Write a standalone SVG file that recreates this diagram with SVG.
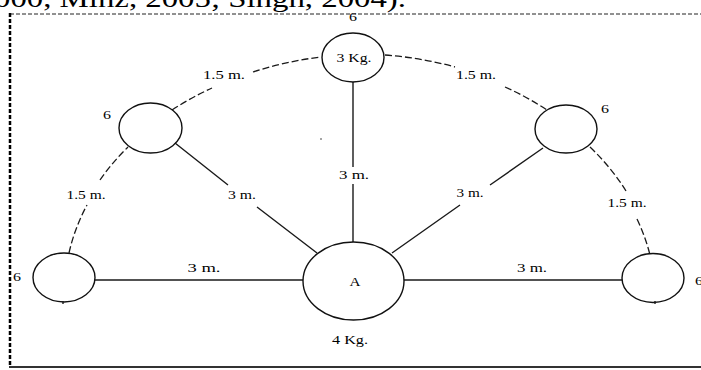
<svg xmlns="http://www.w3.org/2000/svg" width="701" height="370" viewBox="0 0 701 370">
<style>
.node{fill:none;stroke:#111;stroke-width:1.4}
.ln{fill:none;stroke:#1a1a1a;stroke-width:1.4}
.dash{fill:none;stroke:#1a1a1a;stroke-width:1.3;stroke-dasharray:7 3}
.t{font-family:"Liberation Serif","Times New Roman",serif;font-size:13px;fill:#000;text-anchor:middle}
.top{font-family:"Liberation Serif","Times New Roman",serif;font-size:25px;fill:#000}
</style>
<rect width="701" height="370" fill="#fff"/>
<text class="top" x="-6" y="7" textLength="412" lengthAdjust="spacingAndGlyphs">000, Minz, 2005; Singh, 2004).</text>
<g id="frame">
<line x1="10" y1="14" x2="701" y2="14" stroke="#222" stroke-width="1" stroke-dasharray="4 2"/>
<line x1="10" y1="13" x2="10" y2="367" stroke="#000" stroke-width="2.5" stroke-dasharray="4 2"/>
<line x1="9" y1="367" x2="701" y2="367" stroke="#333" stroke-width="2"/>
</g>
<g id="connectors">
<path class="ln" d="M353 82 V167 M353 184 V242"/>
<path class="ln" d="M175 143 L228 185 M257 207 L317 253"/>
<path class="ln" d="M543 148 L490 185 M460 205 L392 253"/>
<path class="ln" d="M95 280 H303 M404 280 H622"/>
<path class="dash" d="M253 72 A289 224 0 0 1 321 57"/>
<path class="dash" d="M172 110 A289 224 0 0 1 212 88"/>
<path class="dash" d="M100 180 A289 224 0 0 1 128 147"/>
<path class="dash" d="M69 253 A289 224 0 0 1 87 205"/>
<path class="dash" d="M385 55 A289 224 0 0 1 455 67"/>
<path class="dash" d="M505 87 A289 224 0 0 1 547 110"/>
<path class="dash" d="M590 147 A289 224 0 0 1 626 191"/>
<path class="dash" d="M637 219 A289 224 0 0 1 650 255"/>
<text class="t" x="224" y="79" textLength="42" lengthAdjust="spacingAndGlyphs">1.5 m.</text>
<text class="t" x="476" y="79" textLength="40" lengthAdjust="spacingAndGlyphs">1.5 m.</text>
<text class="t" x="86" y="199" textLength="39" lengthAdjust="spacingAndGlyphs">1.5 m.</text>
<text class="t" x="627" y="207" textLength="39" lengthAdjust="spacingAndGlyphs">1.5 m.</text>
<text class="t" x="242" y="199" textLength="28" lengthAdjust="spacingAndGlyphs">3 m.</text>
<text class="t" x="354" y="179" textLength="30" lengthAdjust="spacingAndGlyphs">3 m.</text>
<text class="t" x="470" y="197" textLength="27" lengthAdjust="spacingAndGlyphs">3 m.</text>
<text class="t" x="204" y="272" textLength="33" lengthAdjust="spacingAndGlyphs">3 m.</text>
<text class="t" x="532" y="272" textLength="30" lengthAdjust="spacingAndGlyphs">3 m.</text>
</g>
<g id="node-top">
<ellipse class="node" cx="353" cy="57.5" rx="31" ry="24.5"/>
<text class="t" x="354" y="62" textLength="35" lengthAdjust="spacingAndGlyphs">3 Kg.</text>
<text class="t" x="353" y="21" textLength="8" lengthAdjust="spacingAndGlyphs">6</text>
</g>
<g id="node-upper-left">
<ellipse class="node" cx="150.5" cy="128" rx="31.5" ry="25"/>
<text class="t" x="107" y="119" textLength="8" lengthAdjust="spacingAndGlyphs">6</text>
</g>
<g id="node-upper-right">
<ellipse class="node" cx="566" cy="129" rx="31" ry="24"/>
<text class="t" x="605" y="113" textLength="8" lengthAdjust="spacingAndGlyphs">6</text>
</g>
<g id="node-left">
<ellipse class="node" cx="64" cy="277.5" rx="31" ry="24.5"/>
<line class="ln" x1="63" y1="301" x2="63" y2="304"/>
<text class="t" x="17" y="281" textLength="8" lengthAdjust="spacingAndGlyphs">6</text>
</g>
<g id="node-right">
<ellipse class="node" cx="653" cy="278" rx="31" ry="24.5"/>
<line class="ln" x1="655" y1="301" x2="655" y2="304"/>
<text class="t" x="699" y="285" textLength="8" lengthAdjust="spacingAndGlyphs">6</text>
</g>
<g id="node-A">
<ellipse class="node" cx="353.5" cy="281" rx="50.5" ry="39"/>
<text class="t" x="355" y="286" textLength="11" lengthAdjust="spacingAndGlyphs">A</text>
<text class="t" x="350" y="344" textLength="36" lengthAdjust="spacingAndGlyphs">4 Kg.</text>
</g>
<circle cx="321" cy="139" r="0.8" fill="#333"/>
</svg>
